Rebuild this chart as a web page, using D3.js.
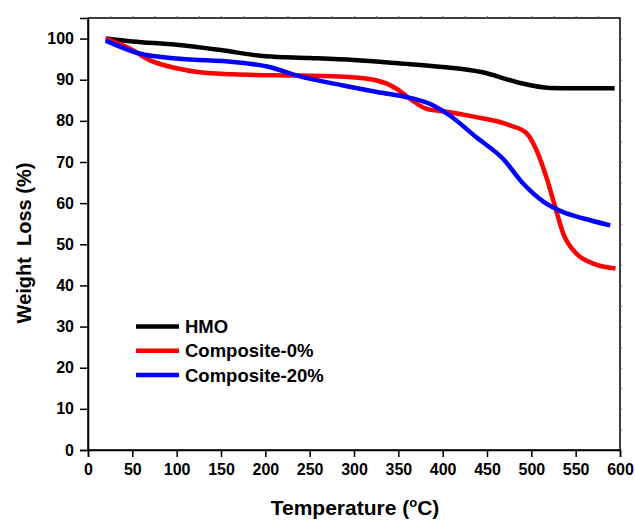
<!DOCTYPE html>
<html>
<head>
<meta charset="utf-8">
<script src="https://cdn.jsdelivr.net/npm/d3@7"></script>
<style>
  body { margin: 0; background: #fff; }
  text { font-family: "Liberation Sans", Arial, sans-serif; font-weight: bold; fill: #000; }
</style>
</head>
<body>
<div id="chart"></div>
<script>
// temperatures (°C) and weight (%)
var hmoT   = [20, 50, 100, 150, 200, 250, 300, 350, 400, 445, 484, 521, 550, 594];
var hmoW   = [100, 99.3, 98.5, 97.2, 95.7, 95.3, 94.8, 94.0, 93.1, 91.8, 89.4, 88.0, 87.9, 87.9];

var comp0T = [20, 45, 70, 104, 126, 164, 239, 290, 326, 348, 363, 382, 408, 438, 476, 495, 506, 517, 527, 536, 551, 570, 595];
var comp0W = [100, 97.8, 94.7, 92.6, 91.8, 91.3, 91.0, 90.7, 89.8, 87.8, 85.4, 82.9, 82.1, 80.9, 78.9, 76.9, 72.8, 66.3, 59.0, 52.6, 47.7, 45.3, 44.1];

var comp20T = [20, 59, 104, 164, 202, 239, 288, 326, 363, 386, 408, 438, 468, 491, 514, 536, 560, 589];
var comp20W = [99.5, 96.3, 95.1, 94.3, 93.2, 90.8, 88.6, 87.0, 85.6, 84.1, 81.3, 76.0, 70.8, 64.7, 60.3, 57.8, 56.2, 54.6];

var seriesNames  = ["HMO", "Composite-0%", "Composite-20%"];
var seriesColors = ["#000000", "#ff0000", "#0000ff"];
var xTicks = d3.range(0, 601, 50);
var yTicks = d3.range(0, 101, 10);

var width = 635, height = 523;
var margin = {left: 88, right: 15, top: 18, bottom: 73};

var svg = d3.select("#chart").append("svg")
    .attr("width", width)
    .attr("height", height);

var x = d3.scaleLinear().domain([0, 600]).range([margin.left, width - margin.right]);
var y = d3.scaleLinear().domain([0, 105]).range([height - margin.bottom, margin.top]);

// frame
svg.append("rect")
    .attr("x", x(0)).attr("y", y(105))
    .attr("width", x(600) - x(0)).attr("height", y(0) - y(105))
    .attr("fill", "none").attr("stroke", "#000").attr("stroke-width", 1.5);

// bottom axis, major + minor
var xAxis = svg.append("g").attr("transform", "translate(0," + y(0) + ")");
xAxis.call(d3.axisBottom(x).tickValues(d3.range(25, 600, 50)).tickSize(4).tickFormat(""));
xAxis.call(d3.axisBottom(x).tickValues(xTicks).tickSize(7).tickPadding(7).tickFormat(d3.format("d")));
xAxis.selectAll(".domain").attr("stroke-width", 1.5);
xAxis.selectAll("line").attr("stroke-width", 1.5);
xAxis.selectAll("text").style("font-size", "16px").attr("fill", "#000");

// left axis
var yAxis = svg.append("g").attr("transform", "translate(" + x(0) + ",0)");
yAxis.call(d3.axisLeft(y).tickValues(d3.range(5, 105, 10)).tickSize(4).tickFormat(""));
yAxis.call(d3.axisLeft(y).tickValues(yTicks).tickSize(8).tickPadding(6).tickFormat(d3.format("d")));
yAxis.selectAll(".domain").attr("stroke-width", 1.5);
yAxis.selectAll("line").attr("stroke-width", 1.5);
yAxis.selectAll("text").style("font-size", "16px").attr("fill", "#000");

// small ticks on top and right
var topAxis = svg.append("g").attr("transform", "translate(0," + y(105) + ")");
topAxis.call(d3.axisTop(x).tickValues(d3.range(25, 600, 25)).tickSize(2).tickFormat(""));
topAxis.select(".domain").remove();
topAxis.selectAll("line").attr("stroke", "#666");
var rightAxis = svg.append("g").attr("transform", "translate(" + x(600) + ",0)");
rightAxis.call(d3.axisRight(y).tickValues(d3.range(5, 105, 5)).tickSize(2).tickFormat(""));
rightAxis.select(".domain").remove();
rightAxis.selectAll("line").attr("stroke", "#666");

// curves
var line = d3.line()
    .x(function(d) { return x(d[0]); })
    .y(function(d) { return y(d[1]); })
    .curve(d3.curveMonotoneX);

var series = [
    d3.zip(hmoT, hmoW),
    d3.zip(comp0T, comp0W),
    d3.zip(comp20T, comp20W)
];

svg.append("g")
    .selectAll("path")
    .data(series)
    .enter()
    .append("path")
    .attr("d", line)
    .attr("fill", "none")
    .attr("stroke", function(d, i) { return seriesColors[i]; })
    .attr("stroke-width", 4.5)
    .attr("stroke-linejoin", "round");

// legend
var legend = svg.append("g").attr("transform", "translate(136,326.5)");
var item = legend.selectAll("g")
    .data(seriesNames)
    .enter()
    .append("g")
    .attr("transform", function(d, i) { return "translate(0," + (i * 24.2) + ")"; });
item.append("line")
    .attr("x1", 0).attr("x2", 43)
    .attr("stroke", function(d, i) { return seriesColors[i]; })
    .attr("stroke-width", 4.5);
item.append("text")
    .attr("x", 49).attr("dy", "0.36em")
    .style("font-size", "18.5px")
    .text(function(d) { return d; });

// axis titles
var xTitle = svg.append("text")
    .attr("x", 355).attr("y", 515)
    .attr("text-anchor", "middle")
    .style("font-size", "21px");
xTitle.append("tspan").text("Temperature (");
xTitle.append("tspan").attr("dy", -8).style("font-size", "13px").text("o");
xTitle.append("tspan").attr("dy", 8).text("C)");

svg.append("text")
    .attr("transform", "translate(31,243) rotate(-90)")
    .attr("text-anchor", "middle")
    .style("font-size", "20px")
    .attr("xml:space", "preserve")
    .text("Weight  Loss (%)");
</script>
</body>
</html>
